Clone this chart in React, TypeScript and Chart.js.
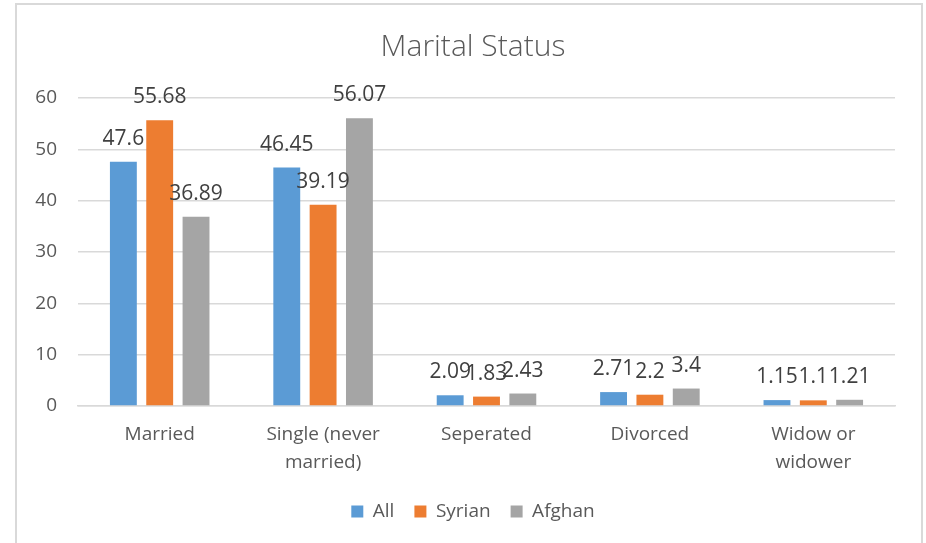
import React, { useEffect, useRef } from "react";
import { Chart, registerables } from "chart.js";

Chart.register(...registerables);

const categories: string[][] = [
  ["Married"],
  ["Single (never", "married)"],
  ["Seperated"],
  ["Divorced"],
  ["Widow or", "widower"],
];
const allValues = [47.6, 46.45, 2.09, 2.71, 1.15];
const syrianValues = [55.68, 39.19, 1.83, 2.2, 1.1];
const afghanValues = [36.89, 56.07, 2.43, 3.4, 1.21];
const seriesNames = ["All", "Syrian", "Afghan"];
const seriesColors = ["#5B9BD5", "#ED7D31", "#A5A5A5"];
const yMin = 0;
const yMax = 60;
const yStep = 10;
const chartTitle = "Marital Status";

const FONT = "'Open Sans', 'Noto Sans', sans-serif";
const TEXT = "#595959";

const frame = {
  id: "frame",
  beforeDraw(chart: any) {
    const ctx = chart.ctx;
    ctx.save();
    ctx.fillStyle = "#ffffff";
    ctx.fillRect(0, 0, chart.width, chart.height);
    ctx.strokeStyle = "#d9d9d9";
    ctx.lineWidth = 2;
    ctx.strokeRect(16, 4, 906, 560);
    ctx.restore();
  },
};

const dataLabels = {
  id: "dataLabels",
  afterDatasetsDraw(chart: any) {
    const ctx = chart.ctx;
    ctx.save();
    ctx.font = `21px ${FONT}`;
    ctx.fillStyle = "#404040";
    ctx.textAlign = "center";
    ctx.textBaseline = "middle";
    chart.data.datasets.forEach((ds: any, i: number) => {
      const meta = chart.getDatasetMeta(i);
      meta.data.forEach((el: any, j: number) => {
        ctx.fillText(String(ds.data[j]), el.x, el.y - 23);
      });
    });
    ctx.restore();
  },
};

export default function App() {
  const ref = useRef<HTMLCanvasElement | null>(null);
  useEffect(() => {
    if (!ref.current) return;
    const values = [allValues, syrianValues, afghanValues];
    const chart = new Chart(ref.current, {
      type: "bar",
      data: {
        labels: categories,
        datasets: seriesNames.map((name, i) => ({
          label: name,
          data: values[i],
          backgroundColor: seriesColors[i],
          borderWidth: 0,
          categoryPercentage: 0.667,
          barPercentage: 0.74,
        })),
      },
      options: {
        animation: false,
        responsive: false,
        maintainAspectRatio: false,
        layout: { padding: { left: 20, right: 0, top: 0, bottom: 12 } },
        plugins: {
          title: {
            display: true,
            text: chartTitle,
            color: TEXT,
            font: { family: FONT, size: 30, weight: 300, lineHeight: 1.2 },
            padding: { top: 29, bottom: 33 },
          },
          legend: {
            position: "bottom",
            labels: {
              boxWidth: 12,
              boxHeight: 12,
              color: TEXT,
              padding: 20,
              font: { family: FONT, size: 19 },
            },
          },
          tooltip: { enabled: false },
        },
        scales: {
          x: {
            grid: { display: false },
            border: { display: true, color: "#d9d9d9", width: 1.5 },
            ticks: {
              color: TEXT,
              font: { family: FONT, size: 19, lineHeight: 1.45 },
              padding: 7,
              maxRotation: 0,
              autoSkip: false,
            },
            afterFit: (s: any) => {
              s.height = 76;
            },
          },
          y: {
            min: yMin,
            max: yMax,
            ticks: {
              stepSize: yStep,
              color: TEXT,
              font: { family: FONT, size: 19 },
              padding: 21,
            },
            grid: { color: "#d9d9d9", lineWidth: 1.5, drawTicks: false },
            border: { display: false },
            afterFit: (s: any) => {
              s.width = 58;
            },
          },
          yRightSpace: {
            type: "linear",
            position: "right",
            display: true,
            grid: { display: false },
            border: { display: false },
            ticks: { display: false },
            afterFit: (s: any) => {
              s.width = 31;
            },
          },
        },
      },
      plugins: [frame, dataLabels],
    });
    return () => chart.destroy();
  }, []);
  return (
    <div style={{ position: "absolute", left: 0, top: 0, width: 926, height: 543 }}>
      <canvas ref={ref} width={926} height={543} style={{ width: 926, height: 543, display: "block" }} />
    </div>
  );
}
